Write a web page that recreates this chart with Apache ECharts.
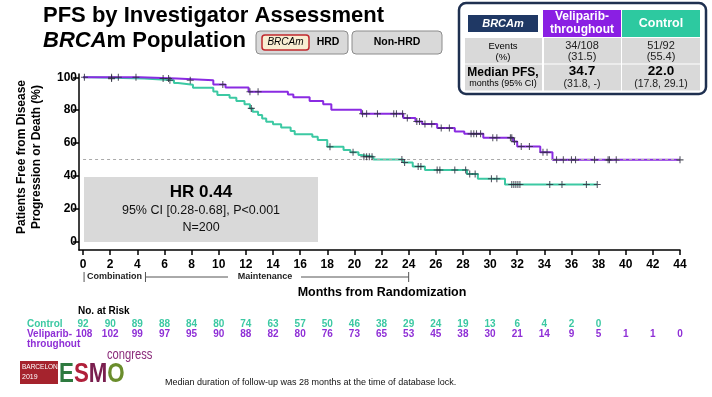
<!DOCTYPE html>
<html><head><meta charset="utf-8">
<script src="https://cdn.jsdelivr.net/npm/echarts@6/dist/echarts.min.js"></script>
<style>html,body{margin:0;padding:0;background:#fff}#c{width:712px;height:397px}</style>
</head><body><div id="c"></div>
<script>
// ---- Data ----
const xTicks = [0,2,4,6,8,10,12,14,16,18,20,22,24,26,28,30,32,34,36,38,40,42,44];
const yTicks = [0,20,40,60,80,100];
// Veliparib-throughout KM steps (month, % free)
const velT = [0,4.2,6.9,9.6,10.5,12.2,15.1,15.5,16.7,17.7,18.3,20.5,23.6,24.5,25.0,26.1,27.4,28.1,29.5,31.7,32.0,33.7,34.6,44.0];
const velS = [100,99.3,98.2,95.6,93.8,91.2,89.6,87.8,85.6,83.6,80.2,77.8,75.2,73.1,71.6,69.1,67.0,65.6,63.3,60.9,57.9,54.4,49.8,49.8];
// Control KM steps
const ctrlT = [0,0.6,4.5,6.7,7.0,8.1,9.6,9.9,10.8,11.3,11.9,12.3,12.5,12.9,13.2,13.5,14.0,14.6,15.3,15.6,16.9,17.3,18.0,19.2,19.7,20.3,20.5,21.4,23.6,24.3,25.2,28.3,29.1,31.1,37.9];
const ctrlS = [100,99.2,98.2,96.5,95.4,93.7,91.3,89.3,87.6,85.6,83.6,81.1,79.1,77.1,75.0,73.0,71.4,69.4,67.3,65.3,63.9,61.9,57.8,55.8,54.4,52.7,51.7,50.0,48.2,45.8,43.6,41.2,38.3,34.8,34.8];
// Censoring times
const velCensor = [0.1,2.1,2.6,3.9,5.9,6.3,7.9,10.3,12.3,12.9,20.6,20.9,21.7,22.9,23.1,23.55,23.9,24.6,24.8,25.2,25.7,26.4,27.0,28.6,28.8,29.0,29.3,30.2,30.5,31.5,31.6,31.8,32.3,32.9,33.9,34.2,34.9,35.4,36.0,36.3,37.7,38.7,38.8,39.3,44.0];
const ctrlCensor = [2.1,6.4,12.4,18.2,19.9,20.7,20.9,21.1,21.3,23.5,23.7,24.7,24.9,26.1,26.3,27.4,28.2,28.5,28.9,30.1,30.5,31.6,31.75,31.9,32.05,32.2,34.4,35.3,37.1,37.9];
// Numbers at risk
const riskCtrl = [92,90,89,88,84,80,74,63,57,50,46,38,29,24,19,13,6,4,2,0];
const riskVel = [108,102,99,97,95,90,88,82,80,76,73,65,53,45,38,30,21,14,9,5,1,1,0];
// Phase boundaries (months)
const phaseBounds = [0,4.6,24];

const PURPLE = '#8a2be2', TEAL = '#3cc9a3';
const FONT = '"Liberation Sans", Arial, sans-serif';
function survAt(T,S,t){let v=S[0];for(let i=0;i<T.length;i++){if(T[i]<=t)v=S[i];}return v;}
const plus = 'path://M4.25,0h1.5v4.25h4.25v1.5h-4.25v4.25h-1.5v-4.25h-4.25v-1.5h4.25z';

const chart = echarts.init(document.getElementById('c'), null, {renderer:'canvas'});
const option = {
  animation:false,
  textStyle:{fontFamily:FONT},
  grid:{left:79,right:32,top:74,bottom:147},
  xAxis:{type:'value',min:-0.3,max:44,
    axisLine:{onZero:false,lineStyle:{color:'#000',width:1.5}},
    axisTick:{show:true,length:5,customValues:xTicks,lineStyle:{color:'#000',width:1.5}},
    axisLabel:{customValues:xTicks,color:'#000',fontWeight:'bold',fontSize:12,margin:9,fontFamily:FONT},
    splitLine:{show:false}},
  yAxis:{type:'value',min:-5,max:102,
    axisLine:{show:true,onZero:false,lineStyle:{color:'#000',width:1.5}},
    axisTick:{show:true,length:6,customValues:yTicks,lineStyle:{color:'#000',width:1.5}},
    axisLabel:{customValues:yTicks,color:'#000',fontWeight:'bold',fontSize:12,margin:2,fontFamily:FONT},
    splitLine:{show:false}},
  series:[
    {type:'line',step:'end',symbol:'none',data:ctrlT.map((t,i)=>[t,ctrlS[i]]),
     lineStyle:{color:TEAL,width:2},z:3,
     markLine:{silent:true,symbol:'none',label:{show:false},lineStyle:{color:'#aaa',type:[3,3],width:1},
       data:[[{coord:[0,50]},{coord:[44,50]}]]}},
    {type:'line',step:'end',symbol:'none',data:velT.map((t,i)=>[t,velS[i]]),
     lineStyle:{color:PURPLE,width:2},z:4},
    {type:'scatter',symbol:plus,symbolSize:7,data:ctrlCensor.map(t=>[t,survAt(ctrlT,ctrlS,t)]),
     itemStyle:{color:'#2b2b3b'},z:5},
    {type:'scatter',symbol:plus,symbolSize:7,data:velCensor.map(t=>[t,survAt(velT,velS,t)]),
     itemStyle:{color:'#2b2b3b'},z:5}
  ]
};
chart.setOption(option);

const px = m => chart.convertToPixel({xAxisIndex:0}, m);
const g = [];
function txt(x,y,text,st){g.push({type:'text',x:x,y:y,z:20,style:Object.assign({text:text,fontFamily:FONT,fill:'#000',align:'center',verticalAlign:'middle'},st||{})});}
function rect(x,y,w,h,st,r,z){g.push({type:'rect',z:z||10,shape:{x:x,y:y,width:w,height:h,r:r||0},style:st});}
function line(x1,y1,x2,y2,st){g.push({type:'line',z:12,shape:{x1:x1,y1:y1,x2:x2,y2:y2},style:Object.assign({stroke:'#555',lineWidth:1},st||{})});}

// Title
txt(43,16,'PFS by Investigator Assessment',{align:'left',fontSize:22,fontWeight:'bold'});
g.push({type:'text',x:43,y:41,z:20,style:{text:'{i|BRCA}{b|m Population}',align:'left',verticalAlign:'middle',
  rich:{i:{fontFamily:FONT,fontSize:22,fontWeight:'bold',fontStyle:'italic',fill:'#000'},
        b:{fontFamily:FONT,fontSize:22,fontWeight:'bold',fill:'#000'}}}});
// Buttons
rect(256,31,92,23,{fill:'#d9d9d9',stroke:'#8c8c8c',lineWidth:1},4);
rect(262,35,47,15,{fill:'#f8edd2',stroke:'#c0282d',lineWidth:1.5},3,11);
txt(285.5,42.5,'BRCAm',{fontSize:10,fontStyle:'italic'});
txt(328,42.5,'HRD',{fontSize:10.5,fontWeight:'bold'});
rect(352,31,90,23,{fill:'#d9d9d9',stroke:'#8c8c8c',lineWidth:1},4);
txt(397,42.5,'Non-HRD',{fontSize:10.5,fontWeight:'bold'});

// Summary table
rect(459,3,247,91,{fill:'#fff',stroke:'#1f3050',lineWidth:2.5},7,9);
rect(468,15,70,17,{fill:'#1f3864'},0,11);
txt(503,23.5,'BRCAm',{fontSize:11,fontWeight:'bold',fontStyle:'italic',fill:'#fff'});
rect(543,10,78,27,{fill:'#8a1fe3'},0,11);
txt(582,23.5,'Veliparib-\nthroughout',{fontSize:12,fontWeight:'bold',fill:'#fff',lineHeight:13});
rect(622,10,78,27,{fill:'#2dc9a0'},0,11);
txt(661,23.5,'Control',{fontSize:12.5,fontWeight:'bold',fill:'#fff'});
[[465,77],[544,77],[622,78]].forEach(c=>{rect(c[0],38,c[1],25.5,{fill:'#d9d9d9'},0,11);rect(c[0],64.5,c[1],26,{fill:'#d9d9d9'},0,11);});
txt(503,46,'Events',{fontSize:9.5});
txt(503,57,'(%)',{fontSize:9.5});
txt(582,45.5,'34/108',{fontSize:11,fill:'#222'});
txt(582,57,'(31.5)',{fontSize:11,fill:'#222'});
txt(661,45.5,'51/92',{fontSize:11,fill:'#222'});
txt(661,57,'(55.4)',{fontSize:11,fill:'#222'});
txt(503,72.5,'Median PFS,',{fontSize:12,fontWeight:'bold'});
txt(503,84,'months (95% CI)',{fontSize:9});
txt(582,71.5,'34.7',{fontSize:13.5,fontWeight:'bold'});
txt(582,84,'(31.8, -)',{fontSize:10.5,fill:'#222'});
txt(661,71.5,'22.0',{fontSize:13.5,fontWeight:'bold'});
txt(661,84,'(17.8, 29.1)',{fontSize:10.5,fill:'#222'});

// Y axis title
g.push({type:'text',x:22,y:157,rotation:Math.PI/2,z:20,style:{text:'Patients Free from Disease',fontFamily:FONT,fontSize:12,fontWeight:'bold',fill:'#000',align:'center',verticalAlign:'middle'}});
g.push({type:'text',x:37,y:157,rotation:Math.PI/2,z:20,style:{text:'Progression or Death (%)',fontFamily:FONT,fontSize:12,fontWeight:'bold',fill:'#000',align:'center',verticalAlign:'middle'}});

// HR box
rect(84,177,234,65,{fill:'#d9d9d9'},0,1);
txt(201,192,'HR 0.44',{fontSize:17,fontWeight:'bold'});
txt(201,211,'95% CI [0.28-0.68], P<0.001',{fontSize:12.5,fill:'#111'});
txt(201,228,'N=200',{fontSize:12.5,fill:'#111'});

// Phase annotation
const p0=px(phaseBounds[0]), p1=px(phaseBounds[1]), p2=px(phaseBounds[2]);
const yp=277;
line(p0+1,yp-5,p0+1,yp+5);line(p1,yp-5,p1,yp+5);line(p2,yp-5,p2,yp+5);
txt(p0+4,yp,'Combination',{align:'left',fontSize:9,fontWeight:'bold',fill:'#222'});
line(p1,yp,228,yp);
txt(265,yp,'Maintenance',{fontSize:9,fontWeight:'bold',fill:'#222'});
line(301,yp,p2,yp);
txt(382,293,'Months from Randomization',{fontSize:12.5,fontWeight:'bold'});

// Numbers at risk
txt(78,311.5,'No. at Risk',{align:'left',fontSize:10,fontWeight:'bold'});
txt(27,324,'Control',{align:'left',fontSize:10,fontWeight:'bold',fill:TEAL});
txt(27,334,'Veliparib-',{align:'left',fontSize:10,fontWeight:'bold',fill:'#8f2fd6'});
txt(27,344.5,'throughout',{align:'left',fontSize:10,fontWeight:'bold',fill:'#8f2fd6'});
riskCtrl.forEach((v,i)=>txt(px(xTicks[i]),324,String(v),{fontSize:10,fontWeight:'bold',fill:TEAL}));
riskVel.forEach((v,i)=>txt(px(xTicks[i])+(i===0?1:0),334,String(v),{fontSize:10,fontWeight:'bold',fill:'#8f2fd6'}));

// Logo
rect(20,361,38,23,{fill:'#a5232d'},0,11);
txt(22,367,'BARCELONA',{align:'left',fontSize:6.5,fill:'#fff'});
txt(22,377.5,'2019',{align:'left',fontSize:7,fill:'#fff'});
g.push({type:'text',x:59,y:374,scaleX:0.72,scaleY:0.9,z:20,style:{text:'{e|E}{s|S}{m|M}{o|O}',align:'left',verticalAlign:'middle',
  rich:{e:{fontFamily:FONT,fontSize:31,fontWeight:'bold',fill:'#2e7a3f'},s:{fontFamily:FONT,fontSize:31,fontWeight:'bold',fill:'#b0203a'},
        m:{fontFamily:FONT,fontSize:31,fontWeight:'bold',fill:'#7a1f4f'},o:{fontFamily:FONT,fontSize:31,fontWeight:'bold',fill:'#6a8d2c'}}}});
g.push({type:'text',x:107,y:355,scaleX:0.8,z:20,style:{text:'congress',fontFamily:FONT,fontSize:14,fill:'#8a2b7a',align:'left',verticalAlign:'middle'}});
txt(165,383,'Median duration of follow-up was 28 months at the time of database lock.',{align:'left',fontSize:9,fill:'#111'});

chart.setOption({graphic:g});
</script></body></html>
